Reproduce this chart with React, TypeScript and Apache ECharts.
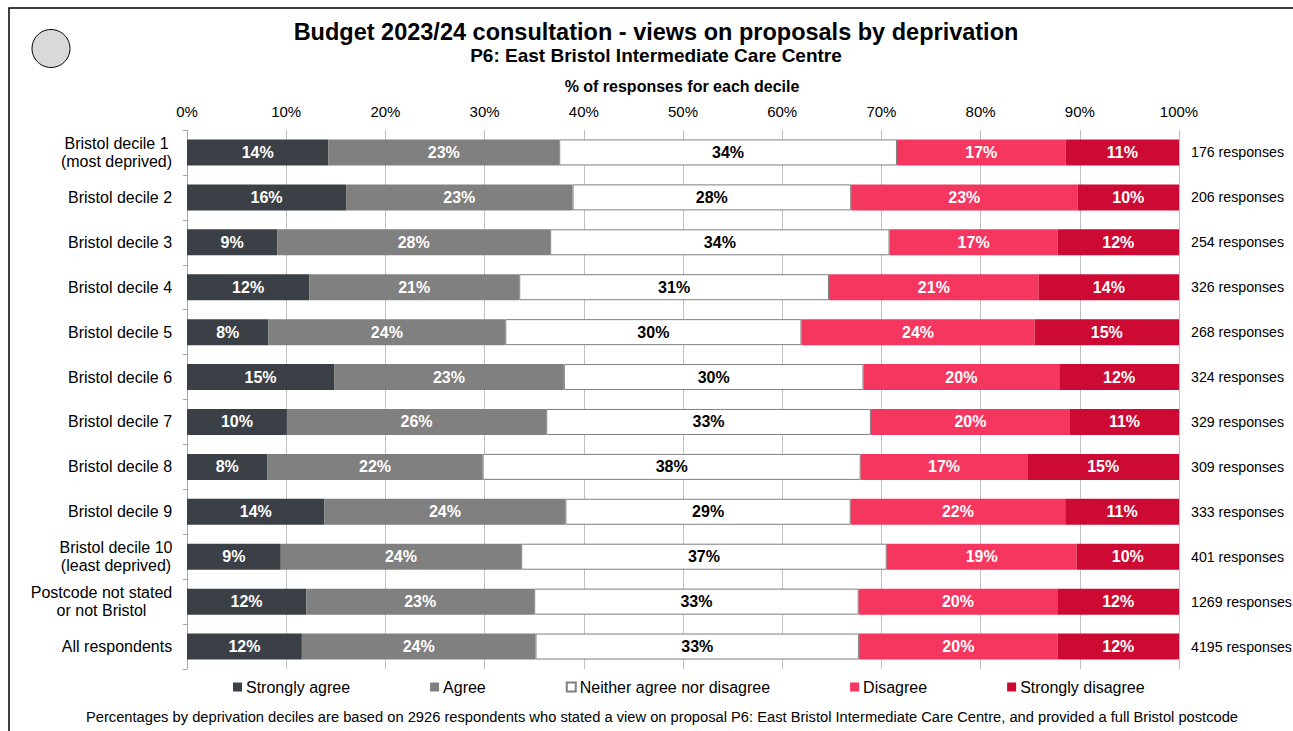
import React, { useEffect, useRef } from "react";
import * as echarts from "echarts";

const categories = [
  "Bristol decile 1\n(most deprived)",
  "Bristol decile 2",
  "Bristol decile 3",
  "Bristol decile 4",
  "Bristol decile 5",
  "Bristol decile 6",
  "Bristol decile 7",
  "Bristol decile 8",
  "Bristol decile 9",
  "Bristol decile 10\n(least deprived)",
  "Postcode not stated\nor not Bristol",
  "All respondents",
];
const responses = [176, 206, 254, 326, 268, 324, 329, 309, 333, 401, 1269, 4195];
const stronglyAgree = [14.26, 16.04, 9.09, 12.32, 8.21, 14.83, 10.07, 8.12, 13.86, 9.45, 12.01, 11.58];
const agree = [23.26, 22.82, 27.52, 21.17, 23.88, 23.16, 26.14, 21.68, 24.29, 24.24, 22.99, 23.55];
const neither = [34.05, 28.09, 34.21, 31.23, 29.85, 30.2, 32.73, 38.11, 28.76, 36.85, 32.71, 32.62];
const disagree = [17.0, 22.82, 16.95, 21.14, 23.51, 19.74, 20.07, 16.8, 21.62, 19.14, 20.02, 20.02];
const stronglyDisagree = [11.43, 10.23, 12.23, 14.14, 14.55, 12.07, 10.99, 15.29, 11.47, 10.32, 12.27, 12.23];
const xTicks = [0, 10, 20, 30, 40, 50, 60, 70, 80, 90, 100];

const FONT = '"Liberation Sans", Arial, sans-serif';

export default function App() {
  const ref = useRef<HTMLDivElement>(null);
  useEffect(() => {
    if (!ref.current) return;
    const chart = echarts.init(ref.current, null, { renderer: "svg" });

    const canvas = document.createElement("canvas");
    const ctx = canvas.getContext("2d");
    const rich: any = {};
    categories.forEach((c, i) => {
      let w = 0;
      if (ctx) {
        ctx.font = "16px " + FONT;
        c.split("\n").forEach((l) => {
          w = Math.max(w, ctx.measureText(l).width);
        });
      }
      rich["c" + i] = {
        width: Math.ceil(w) + 1,
        align: "center",
        fontSize: 16,
        lineHeight: 18,
        color: "#000",
        fontFamily: FONT,
      };
    });

    const mk = (name: string, data: number[], color: string, labelColor: string, border?: string) => ({
      name,
      type: "bar",
      stack: "total",
      data,
      barWidth: 26,
      itemStyle: border
        ? { color, borderColor: border, borderWidth: 1 }
        : { color },
      label: {
        show: true,
        position: "inside",
        formatter: (p: any) => Math.round(p.value) + "%",
        color: labelColor,
        fontWeight: "bold",
        fontSize: 16,
        fontFamily: FONT,
      },
      emphasis: { disabled: true },
    });

    chart.setOption({
      animation: false,
      textStyle: { fontFamily: FONT },
      title: [
        {
          text: "Budget 2023/24 consultation - views on proposals by deprivation",
          left: 651,
          top: 15,
          textAlign: "center",
          textStyle: { fontSize: 23.5, fontWeight: "bold", color: "#000", fontFamily: FONT },
        },
        {
          text: "P6: East Bristol Intermediate Care Centre",
          left: 651,
          top: 41,
          textAlign: "center",
          textStyle: { fontSize: 19, fontWeight: "bold", color: "#000", fontFamily: FONT },
        },
        {
          text: "% of responses for each decile",
          left: 677,
          top: 73,
          textAlign: "center",
          textStyle: { fontSize: 16, fontWeight: "bold", color: "#000", fontFamily: FONT },
        },
        {
          text:
            "Percentages by deprivation deciles are based on 2926 respondents who stated a view on proposal P6: East Bristol Intermediate Care Centre, and provided a full Bristol postcode",
          left: 657,
          top: 704,
          textAlign: "center",
          textStyle: { fontSize: 14.7, fontWeight: "normal", color: "#000", fontFamily: FONT },
        },
      ],
      legend: {
        left: 228,
        top: 674,
        itemWidth: 9,
        itemHeight: 9,
        itemGap: 80,
        icon: "rect",
        textStyle: { fontSize: 16, color: "#000", fontFamily: FONT, padding: [0, 0, 0, -1] },
        selectedMode: false,
      },
      grid: {
        left: 187,
        right: 114,
        top: 130,
        height: 539,
        containLabel: false,
        outerBoundsMode: "none",
      },
      xAxis: {
        type: "value",
        position: "top",
        min: 0,
        max: 100,
        interval: 10,
        axisLine: { show: false },
        axisTick: { show: false },
        axisLabel: {
          formatter: (v: number) => (xTicks.includes(v) ? v + "%" : ""),
          fontSize: 15,
          color: "#000",
          margin: 11,
        },
        splitLine: { show: true, lineStyle: { color: "#c0c0c0", width: 1 } },
      },
      yAxis: [
        {
          type: "category",
          inverse: true,
          data: categories,
          axisLine: { show: true, lineStyle: { color: "#a6a6a6" } },
          axisTick: { show: true, length: 4, lineStyle: { color: "#a6a6a6" } },
          axisLabel: {
            margin: 14,
            fontSize: 16,
            color: "#000",
            formatter: (v: string, i: number) =>
              v
                .split("\n")
                .map((l) => "{c" + i + "|" + l + "}")
                .join("\n"),
            rich,
          },
        },
        {
          type: "category",
          inverse: true,
          position: "right",
          data: responses,
          axisLine: { show: false },
          axisTick: { show: false },
          axisLabel: {
            margin: 12,
            fontSize: 14.2,
            color: "#000",
            formatter: (v: string) => v + " responses",
          },
        },
      ],
      series: [
        mk("Strongly agree", stronglyAgree, "#3b3f46", "#fff"),
        mk("Agree", agree, "#808080", "#fff"),
        mk("Neither agree nor disagree", neither, "#ffffff", "#000", "#7f7f7f"),
        mk("Disagree", disagree, "#f5365f", "#fff"),
        mk("Strongly disagree", stronglyDisagree, "#cc0a33", "#fff"),
      ],
      graphic: [
        {
          type: "rect",
          shape: { x: 9, y: 8, width: 1400, height: 800 },
          style: { fill: "none", stroke: "#000", lineWidth: 1.5 },
          silent: true,
        },
        {
          type: "circle",
          shape: { cx: 51, cy: 48.5, r: 19 },
          style: { fill: "#d9d9d9", stroke: "#000", lineWidth: 1 },
          silent: true,
        },
      ],
    });
    return () => chart.dispose();
  }, []);
  return (
    <div
      ref={ref}
      style={{ position: "fixed", left: 0, top: 0, width: 1293, height: 731, background: "#fff" }}
    />
  );
}
